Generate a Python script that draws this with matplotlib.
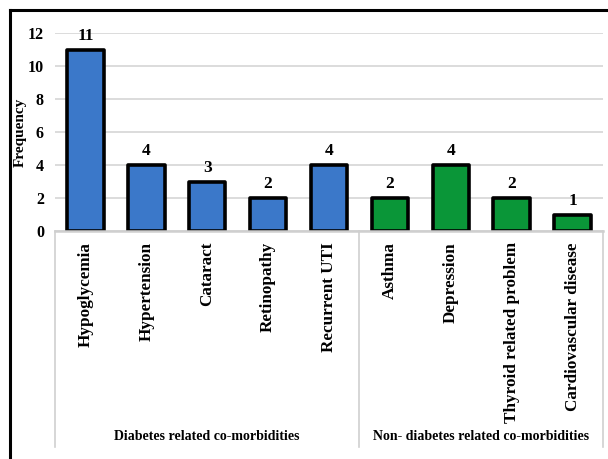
import matplotlib.pyplot as plt
from matplotlib.lines import Line2D

# Co-morbidity counts, grouped into diabetes / non-diabetes related
categories = ['Hypoglycemia', 'Hypertension', 'Cataract', 'Retinopathy', 'Recurrent UTI',
              'Asthma', 'Depression', 'Thyroid related problem', 'Cardiovascular disease']
counts = [11, 4, 3, 2, 4, 2, 4, 2, 1]
groups = ['Diabetes related co-morbidities', 'Non- diabetes related co-morbidities']
group_sizes = [5, 4]
group_colors = ['#3b78c9', '#0a9638']

plt.rcParams['font.family'] = 'Liberation Serif'
plt.rcParams['font.weight'] = 'bold'

fig = plt.figure(figsize=(6.08, 4.59), dpi=100)
W, H = 608, 459
ax = fig.add_axes([55 / W, 1 - 231 / H, 548 / W, 198 / H])

colors = []
for size, col in zip(group_sizes, group_colors):
    colors += [col] * size
x = list(range(len(categories)))

ax.bar(x, counts, width=0.6, color=colors, edgecolor='black', linewidth=2.6,
       joinstyle='round', zorder=3)
for xi, v in zip(x, counts):
    ax.annotate(str(v), (xi, v), xytext=(0, 4), textcoords='offset points',
                ha='center', va='bottom', fontsize=12.5, fontweight='bold')

ax.set_xlim(-0.5, len(categories) - 0.5)
ax.set_ylim(0, 12)
ax.set_yticks(range(0, 13, 2))
ax.yaxis.grid(True, color='#d9d9d9', linewidth=1.3)
ax.set_axisbelow(True)
for side in ['left', 'right', 'top']:
    ax.spines[side].set_visible(False)
ax.spines['bottom'].set_color('#cfcfcf')
ax.spines['bottom'].set_linewidth(1.8)
ax.spines['bottom'].set_zorder(4)
ax.tick_params(axis='y', length=0, pad=8, labelsize=11.5)
ax.set_xticks(x, categories, rotation=90, fontsize=12.3, fontweight='bold')
ax.tick_params(axis='x', length=0, pad=8)
ax.set_ylabel('Frequency', fontsize=11, fontweight='bold', va='center')
ax.yaxis.set_label_coords((20 - 55) / 548, 0.5)

# group separators and group names under the category labels
trans = ax.get_xaxis_transform()
y_bottom = (231 - 447) / 198
bounds = [-0.5]
for size in group_sizes:
    bounds.append(bounds[-1] + size)
for b in bounds:
    ax.plot([b, b], [0, y_bottom], transform=trans, color='#d0d0d0',
            linewidth=1.2, clip_on=False)
for name, lo, hi in zip(groups, bounds[:-1], bounds[1:]):
    ax.text((lo + hi) / 2, (231 - 437) / 198, name, transform=trans,
            ha='center', va='center', fontsize=10, fontweight='bold')

# black frame around the figure
fig.add_artist(Line2D([10 / W, 10 / W], [0, 1 - 10 / H], color='black', linewidth=2.2))
fig.add_artist(Line2D([10 / W, 1], [1 - 10 / H, 1 - 10 / H], color='black', linewidth=2.2))

fig.savefig('out.png', dpi=100)
